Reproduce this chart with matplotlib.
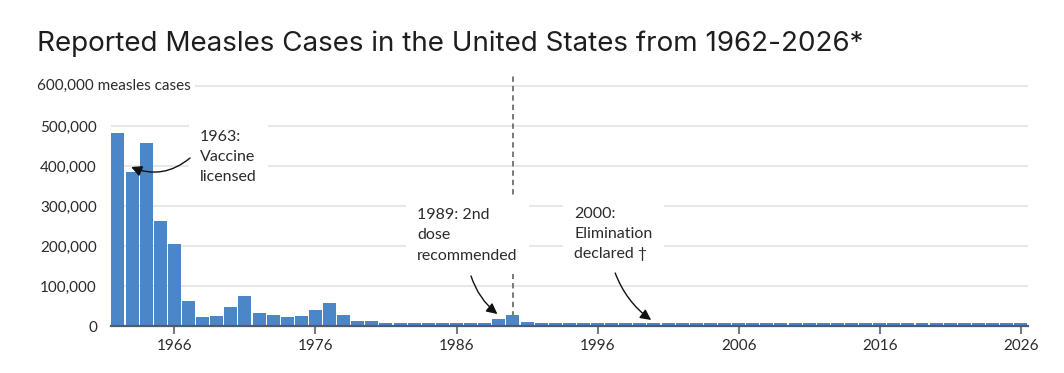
import matplotlib
matplotlib.use("Agg")
import matplotlib.pyplot as plt
from matplotlib.ticker import FuncFormatter

plt.rcParams['font.family'] = ['Lato', 'DejaVu Sans']

# Reported measles cases per year (small years)
years = list(range(1962, 2027))
cases = [481530, 385156, 458083, 261904, 204136, 62705, 22231, 25826, 47351, 75290,
         32275, 26690, 22094, 24374, 41126, 57345, 26871, 13597, 13506,
         6500, 6500, 6500, 6500, 6500, 6500, 6500, 6500,
         18193, 27786, 9643] + [6500] * 35

tick_years = [1966, 1976, 1986, 1996, 2006, 2016, 2026]
y_ticks = [0, 100000, 200000, 300000, 400000, 500000]

bar_color = '#4a86c8'
text_color = '#2b2b2b'

W, H = 1064, 373
fig = plt.figure(figsize=(W / 100, H / 100), dpi=100)
ax = fig.add_axes([110.9 / W, 47 / H, (1027.8 - 110.9) / W, 251 / H])

ax.bar(years, cases, width=0.92, color=bar_color, zorder=2)
ax.set_xlim(1961.5, 2026.5)
ax.set_ylim(0, 627500)

ax.set_yticks(y_ticks)
ax.yaxis.set_major_formatter(FuncFormatter(lambda v, p: f'{v:,.0f}'))
ax.tick_params(axis='y', length=0, pad=10, labelsize=11, labelcolor=text_color)
ax.set_xticks(tick_years)
ax.tick_params(axis='x', length=6, width=1.5, color='#7a7a7a', pad=3,
               labelsize=11, labelcolor=text_color)

for v in y_ticks[1:] + [600000]:
    ax.axhline(v, color='#e8e8e8', lw=1.5, zorder=0)

for s in ['top', 'right', 'left']:
    ax.spines[s].set_visible(False)
ax.spines['bottom'].set_color('#4f5b6e')
ax.spines['bottom'].set_linewidth(1.6)
ax.spines['bottom'].set_zorder(3)

# top y label, sits on the 600,000 gridline
ax.text(-73.9 / (1027.8 - 110.9), 600000, '600,000 measles cases', transform=ax.get_yaxis_transform(),
        ha='left', va='center', fontsize=11, color=text_color, zorder=4,
        bbox=dict(boxstyle='square,pad=0.25', fc='white', ec='none'))

# 1990 marker line
ax.axvline(1990, ymin=0, ymax=1, color='#6e6e6e', lw=1.3, ls=(0, (3, 2.2)), zorder=1)

text_kw = dict(fontsize=11.5, color=text_color, ha='left', va='top', linespacing=1.55,
               zorder=5, bbox=dict(boxstyle='square,pad=0.7', fc='white', ec='none'))


def arrow(rad):
    return dict(arrowstyle='-|>', color='#111111', lw=1.0, mutation_scale=16,
                shrinkA=0, shrinkB=0, connectionstyle=f'arc3,rad={rad}')


ax.text(1967.81, 490000, '1963:\nVaccine\nlicensed', **text_kw)
ax.annotate('', xy=(1962.93, 397500), xytext=(1967.11, 420000), arrowprops=arrow(-0.3),
            annotation_clip=False, zorder=6)

ax.text(1983.2, 294000, '1989: 2nd\ndose\nrecommended', **text_kw)
ax.annotate('', xy=(1988.9, 30000), xytext=(1987.03, 125000), arrowprops=arrow(0.15),
            annotation_clip=False, zorder=6)

ax.text(1994.35, 298000, '2000:\nElimination\ndeclared \u2020', **text_kw)
ax.annotate('', xy=(1999.8, 15000), xytext=(1997.25, 132500), arrowprops=arrow(0.15),
            annotation_clip=False, zorder=6)

fig.text(37 / W, 1 - 44 / H, 'Reported Measles Cases in the United States from 1962-2026*',
         ha='left', va='center', fontsize=20, color='#1e1e1e', family=['Inter', 'DejaVu Sans'])

fig.savefig('out.png', dpi=100, facecolor='white')
